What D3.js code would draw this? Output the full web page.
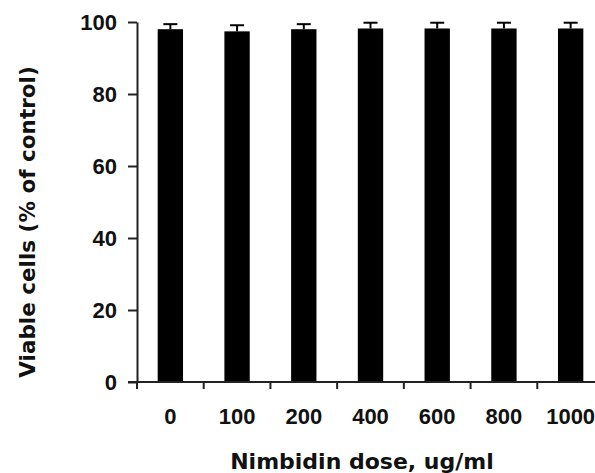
<!DOCTYPE html>
<html>
  <head>
    <meta charset="utf-8">
    <script src="https://cdn.jsdelivr.net/npm/d3@7"></script>
    <style>
      body { margin: 0; background: #fff; }
      text { font-family: "Liberation Sans", Arial, sans-serif; font-weight: bold; }
    </style>
  </head>
  <body>
    <script type="text/javascript">

    var doses = ["0", "100", "200", "400", "600", "800", "1000"];
    var viable = [98.0, 97.4, 98.0, 98.2, 98.2, 98.2, 98.2];
    var errors = [1.4, 1.7, 1.4, 1.6, 1.6, 1.6, 1.6];
    var yTicks = [0, 20, 40, 60, 80, 100];

    var width = 595,
        height = 473;

    var svg = d3.select("body").append("svg")
        .attr("width", width)
        .attr("height", height);

    // x band runs past the right edge, like the original
    var x = d3.scaleBand()
        .domain(doses)
        .range([137, 604])
        .paddingInner(0.62)
        .paddingOuter(0.31);

    var y = d3.scaleLinear()
        .domain([0, 100])
        .range([382, 22]);

    var bw = x.bandwidth();

    // bars
    svg.selectAll("rect.bar")
        .data(doses).enter()
        .append("rect")
        .attr("class", "bar")
        .attr("x", function(d) { return x(d); })
        .attr("y", function(d, i) { return y(viable[i]); })
        .attr("width", bw)
        .attr("height", function(d, i) { return y(0) - y(viable[i]); })
        .attr("fill", "#000");

    // upper error bars
    var err = svg.selectAll("g.err")
        .data(doses).enter()
        .append("g")
        .attr("class", "err")
        .attr("stroke", "#000")
        .attr("stroke-width", 2);

    err.append("line")
        .attr("x1", function(d) { return x(d) + bw / 2; })
        .attr("x2", function(d) { return x(d) + bw / 2; })
        .attr("y1", function(d, i) { return y(viable[i]); })
        .attr("y2", function(d, i) { return y(viable[i] + errors[i]); });

    err.append("line")
        .attr("x1", function(d) { return x(d) + bw / 2 - 7; })
        .attr("x2", function(d) { return x(d) + bw / 2 + 7; })
        .attr("y1", function(d, i) { return y(viable[i] + errors[i]); })
        .attr("y2", function(d, i) { return y(viable[i] + errors[i]); });

    // y axis
    var yAxis = svg.append("g")
        .attr("transform", "translate(137,0)")
        .call(d3.axisLeft(y).tickValues(yTicks).tickSize(9).tickSizeOuter(0).tickPadding(11));

    // x axis: ticks sit between the bars
    var xEdges = d3.scaleLinear().domain([0, doses.length]).range(x.range());
    var xAxis = svg.append("g")
        .attr("transform", "translate(0,382)");

    xAxis.append("line")
        .attr("x1", 128).attr("x2", width)
        .attr("y1", 0).attr("y2", 0);

    xAxis.selectAll("line.tick")
        .data(d3.range(doses.length)).enter()
        .append("line")
        .attr("class", "tick")
        .attr("x1", function(i) { return xEdges(i); })
        .attr("x2", function(i) { return xEdges(i); })
        .attr("y1", 0).attr("y2", 7);

    xAxis.selectAll("line").attr("stroke", "#222").attr("stroke-width", 2);

    xAxis.selectAll("text")
        .data(doses).enter()
        .append("text")
        .attr("x", function(d) { return x(d) + bw / 2; })
        .attr("y", 42)
        .attr("text-anchor", "middle")
        .attr("font-size", 22)
        .attr("fill", "#111")
        .text(function(d) { return d; });

    yAxis.select(".domain").attr("stroke", "#222").attr("stroke-width", 2);
    yAxis.selectAll(".tick line").attr("stroke", "#222").attr("stroke-width", 2);
    yAxis.selectAll(".tick text")
        .attr("font-size", 22)
        .attr("fill", "#111")
        .style("font-family", "Liberation Sans, Arial, sans-serif")
        .style("font-weight", "bold");

    // titles
    svg.append("text")
        .attr("x", 362)
        .attr("y", 469)
        .attr("text-anchor", "middle")
        .attr("font-size", 22)
        .attr("fill", "#111")
        .style("font-family", "DejaVu Sans, sans-serif")
        .text("Nimbidin dose, ug/ml");

    svg.append("text")
        .attr("transform", "translate(35,222) rotate(-90)")
        .attr("text-anchor", "middle")
        .attr("font-size", 21.5)
        .attr("fill", "#111")
        .style("font-family", "DejaVu Sans, sans-serif")
        .text("Viable cells (% of control)");

    </script>
  </body>
</html>
